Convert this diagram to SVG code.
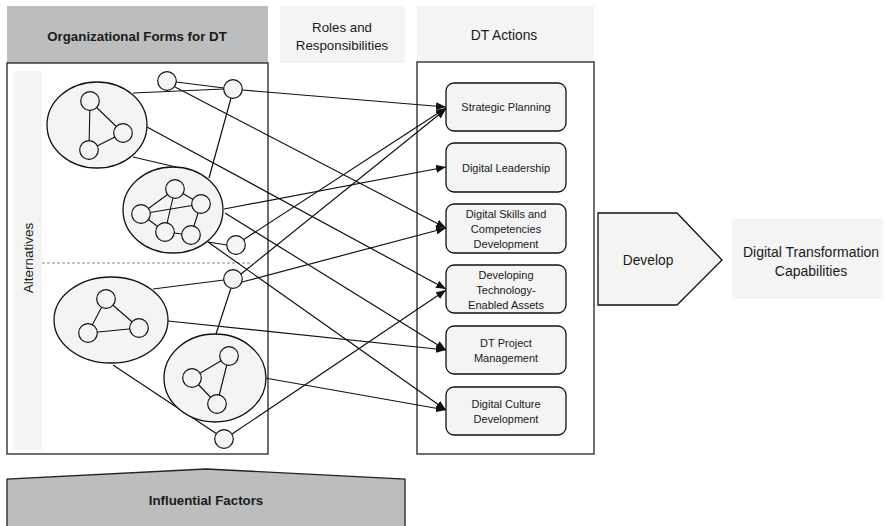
<svg xmlns="http://www.w3.org/2000/svg" width="887" height="526" viewBox="0 0 887 526">
  <style>
    text { font-family: "Liberation Sans", Arial, sans-serif; fill: #1a1a1a; text-anchor: middle; dominant-baseline: central; }
    .hdr { fill: #bcbdbf; }
    .lite { fill: #f3f4f3; }
    .frame { fill: none; stroke: #222; stroke-width: 1.3; }
    .blob { fill: #f3f4f3; stroke: #111; stroke-width: 1.3; }
    .node { fill: #f3f4f3; stroke: #111; stroke-width: 1.2; }
    .edge { stroke: #111; stroke-width: 1.1; fill: none; }
    .conn { stroke: #111; stroke-width: 1.2; fill: none; }
    .arr { stroke: #111; stroke-width: 1.2; fill: none; marker-end: url(#head); }
    .act { fill: #f3f4f3; stroke: #111; stroke-width: 1.3; }
    .act-t { font-size: 11px; }
    .b { font-weight: bold; }
  </style>
  <defs>
    <marker id="head" markerUnits="userSpaceOnUse" markerWidth="10" markerHeight="8" refX="10" refY="4" orient="auto">
      <path d="M0,0 L10,4 L0,8 z" fill="#111"/>
    </marker>
  </defs>

  <!-- column headers -->
  <g id="hdr-forms">
    <rect class="hdr" x="7" y="6" width="261" height="57"/>
    <text class="b" x="137" y="36" font-size="13.3">Organizational Forms for DT</text>
  </g>
  <g id="hdr-roles">
    <rect class="lite" x="280" y="6" width="125" height="57"/>
    <text x="342" y="27" font-size="13.3">Roles and</text>
    <text x="342" y="45" font-size="13.3">Responsibilities</text>
  </g>
  <g id="hdr-actions">
    <rect class="lite" x="417" y="6" width="177" height="56"/>
    <text x="504" y="35" font-size="13.8">DT Actions</text>
  </g>

  <!-- left frame with alternatives strip -->
  <g id="forms-frame">
    <rect class="lite" x="13" y="71" width="29" height="379"/>
    <text x="28" y="258" font-size="13.5" transform="rotate(-90 28 258)">Alternatives</text>
    <line x1="42" y1="263" x2="250" y2="263" stroke="#888" stroke-width="1.2" stroke-dasharray="3,2"/>
    <rect class="frame" x="7" y="63" width="261" height="391"/>
  </g>

  <!-- right frame -->
  <g id="actions-frame">
    <rect class="frame" x="417" y="62" width="177" height="392"/>
  </g>

  <!-- connectors -->
  <g id="connectors">
    <line class="conn" x1="176" y1="82" x2="224" y2="88"/>
    <line class="conn" x1="133" y1="93" x2="224" y2="89"/>
    <line class="conn" x1="231" y1="98" x2="209" y2="178"/>
    <line class="conn" x1="133" y1="157" x2="176" y2="167"/>
    <line class="conn" x1="208" y1="242" x2="227" y2="245"/>
    <line class="conn" x1="153" y1="289" x2="224" y2="280"/>
    <line class="conn" x1="231" y1="288" x2="216" y2="334"/>
    <line class="conn" x1="113" y1="365" x2="217" y2="434"/>

    <line class="arr" x1="242" y1="90" x2="446" y2="107"/>
    <line class="arr" x1="243" y1="240" x2="446" y2="108"/>
    <line class="arr" x1="241" y1="274" x2="446" y2="109"/>
    <line class="arr" x1="224" y1="209" x2="446" y2="167"/>
    <line class="arr" x1="175" y1="87" x2="446" y2="228"/>
    <line class="arr" x1="242" y1="282" x2="446" y2="228"/>
    <line class="arr" x1="147" y1="127" x2="446" y2="289"/>
    <line class="arr" x1="232" y1="434" x2="446" y2="290"/>
    <line class="arr" x1="225" y1="213" x2="446" y2="350"/>
    <line class="arr" x1="168" y1="321" x2="446" y2="350"/>
    <line class="arr" x1="208" y1="242" x2="446" y2="410"/>
    <line class="arr" x1="265" y1="378" x2="446" y2="410"/>
  </g>

  <!-- organizational form clusters -->
  <g id="cluster-a">
    <ellipse class="blob" cx="97" cy="125" rx="50" ry="43"/>
    <line class="edge" x1="90" y1="101" x2="123" y2="133"/>
    <line class="edge" x1="90" y1="101" x2="89" y2="150"/>
    <line class="edge" x1="123" y1="133" x2="89" y2="150"/>
    <circle class="node" cx="90" cy="101" r="9.3"/>
    <circle class="node" cx="123" cy="133" r="9.3"/>
    <circle class="node" cx="89" cy="150" r="9.3"/>
  </g>
  <g id="cluster-b">
    <ellipse class="blob" cx="173" cy="210" rx="50" ry="43"/>
    <line class="edge" x1="175" y1="189" x2="201" y2="204"/>
    <line class="edge" x1="175" y1="189" x2="141" y2="214"/>
    <line class="edge" x1="141" y1="214" x2="201" y2="204"/>
    <line class="edge" x1="175" y1="189" x2="165" y2="232"/>
    <line class="edge" x1="141" y1="214" x2="165" y2="232"/>
    <line class="edge" x1="165" y1="232" x2="191" y2="235"/>
    <line class="edge" x1="201" y1="204" x2="191" y2="235"/>
    <circle class="node" cx="175" cy="189" r="9.3"/>
    <circle class="node" cx="201" cy="204" r="9.3"/>
    <circle class="node" cx="141" cy="214" r="9.3"/>
    <circle class="node" cx="165" cy="232" r="9.3"/>
    <circle class="node" cx="191" cy="235" r="9.3"/>
  </g>
  <g id="cluster-c">
    <ellipse class="blob" cx="111" cy="320" rx="57" ry="43"/>
    <line class="edge" x1="106" y1="299" x2="139" y2="328"/>
    <line class="edge" x1="106" y1="299" x2="88" y2="333"/>
    <line class="edge" x1="88" y1="333" x2="139" y2="328"/>
    <circle class="node" cx="106" cy="299" r="9.3"/>
    <circle class="node" cx="139" cy="328" r="9.3"/>
    <circle class="node" cx="88" cy="333" r="9.3"/>
  </g>
  <g id="cluster-d">
    <ellipse class="blob" cx="215" cy="378" rx="51" ry="44"/>
    <line class="edge" x1="229" y1="356" x2="192" y2="378"/>
    <line class="edge" x1="192" y1="378" x2="217" y2="404"/>
    <line class="edge" x1="229" y1="356" x2="217" y2="404"/>
    <circle class="node" cx="229" cy="356" r="9.3"/>
    <circle class="node" cx="192" cy="378" r="9.3"/>
    <circle class="node" cx="217" cy="404" r="9.3"/>
  </g>

  <!-- standalone roles -->
  <g id="role-1"><circle class="node" cx="167" cy="81" r="9.3"/></g>
  <g id="role-2"><circle class="node" cx="233" cy="89" r="9.3"/></g>
  <g id="role-3"><circle class="node" cx="236" cy="245" r="9.3"/></g>
  <g id="role-4"><circle class="node" cx="233" cy="279" r="9.3"/></g>
  <g id="role-5"><circle class="node" cx="224" cy="439" r="9.3"/></g>

  <!-- DT actions -->
  <g id="act-strategic">
    <rect class="act" x="446" y="83" width="120" height="48" rx="8"/>
    <text class="act-t" x="506" y="107">Strategic Planning</text>
  </g>
  <g id="act-leadership">
    <rect class="act" x="446" y="143" width="120" height="49" rx="8"/>
    <text class="act-t" x="506" y="168">Digital Leadership</text>
  </g>
  <g id="act-skills">
    <rect class="act" x="446" y="204" width="120" height="49" rx="8"/>
    <text class="act-t" x="506" y="214">Digital Skills and</text>
    <text class="act-t" x="506" y="229">Competencies</text>
    <text class="act-t" x="506" y="244">Development</text>
  </g>
  <g id="act-assets">
    <rect class="act" x="446" y="265" width="120" height="48" rx="8"/>
    <text class="act-t" x="506" y="275">Developing</text>
    <text class="act-t" x="506" y="290">Technology-</text>
    <text class="act-t" x="506" y="305">Enabled Assets</text>
  </g>
  <g id="act-project">
    <rect class="act" x="446" y="326" width="120" height="48" rx="8"/>
    <text class="act-t" x="506" y="343">DT Project</text>
    <text class="act-t" x="506" y="358">Management</text>
  </g>
  <g id="act-culture">
    <rect class="act" x="446" y="387" width="120" height="48" rx="8"/>
    <text class="act-t" x="506" y="404">Digital Culture</text>
    <text class="act-t" x="506" y="419">Development</text>
  </g>

  <!-- outcome -->
  <g id="develop">
    <polygon points="598,213 677,213 722,260 677,305 598,305" fill="#f3f4f3" stroke="#111" stroke-width="1.3"/>
    <text x="648" y="260" font-size="13.8">Develop</text>
  </g>
  <g id="capabilities">
    <rect class="lite" x="732" y="219" width="151" height="80"/>
    <text x="811" y="252" font-size="14">Digital Transformation</text>
    <text x="811" y="271" font-size="14">Capabilities</text>
  </g>

  <!-- influential factors -->
  <g id="factors">
    <polygon points="7,527 7,479 206,469 405,479 405,527" fill="#bcbdbf" stroke="#222" stroke-width="1.3"/>
    <text class="b" x="206" y="500" font-size="13.3">Influential Factors</text>
  </g>
</svg>
